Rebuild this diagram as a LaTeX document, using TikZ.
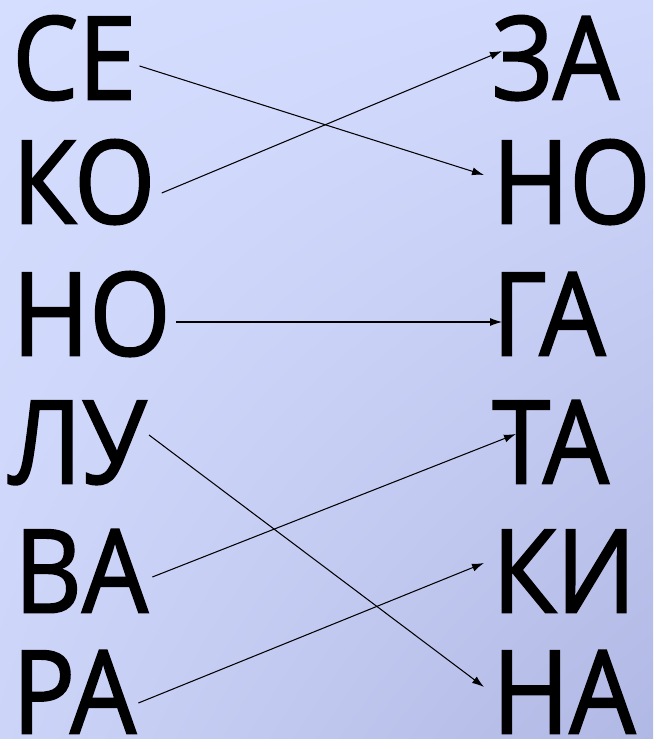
\documentclass[tikz,border=0pt]{standalone}
\usepackage{fontspec}
\setmainfont{Open Sans}
\newfontfamily\sylfont[FakeStretch=0.9,FakeBold=1.6]{Open Sans}
\usetikzlibrary{arrows.meta,positioning,shadings}
\definecolor{bgUL}{RGB}{214,222,255}
\definecolor{bgUR}{RGB}{208,216,252}
\definecolor{bgLL}{RGB}{204,212,248}
\definecolor{bgLR}{RGB}{176,184,228}

\begin{document}
\begin{tikzpicture}[x=0.02cm, y=-0.02cm, >={Latex[length=2.4mm,width=1.6mm]},
  syl/.style={anchor=west, inner sep=0pt, text height=1.7cm, text depth=0pt, font=\sylfont\fontsize{66}{66}\selectfont},
  link/.style={->, line width=0.6pt}]
\shade[upper left=bgUL, upper right=bgUR, lower left=bgLL, lower right=bgLR] (0,0) rectangle (653,739);
\path[use as bounding box] (0,0) rectangle (653,739);
% left column
\node[syl] (se) at (12,57) {СЕ};
\node[syl] (ko) at (12,181) {КО};
\node[syl] (noL) at (12,313) {НО};
\node[syl] (lu) at (8,441) {ЛУ};
\node[syl] (va) at (14,570) {ВА};
\node[syl] (ra) at (12,691) {РА};
% right column
\node[syl] (za) at (492,57) {ЗА};
\node[syl] (noR) at (492,181) {НО};
\node[syl] (ga) at (492,313) {ГА};
\node[syl] (ta) at (492,441) {ТА};
\node[syl] (ki) at (492,570) {КИ};
\node[syl] (na) at (492,691) {НА};
% links
\draw[link] ([shift={(3,9)}]se.east) -- ([shift={(-8,-6)}]noR.west);
\draw[link] ([shift={(6,12)}]ko.east) -- ([shift={(10,-6)}]za.west);
\draw[link] ([shift={(5,9)}]noL.east) -- ([shift={(10,9)}]ga.west);
\draw[link] ([shift={(2,-6)}]lu.east) -- ([shift={(-8,-4)}]na.west);
\draw[link] ([shift={(4,7)}]va.east) -- ([shift={(24,-7)}]ta.west);
\draw[link] ([shift={(2,12)}]ra.east) -- ([shift={(-8,-7)}]ki.west);
\end{tikzpicture}
\end{document}
